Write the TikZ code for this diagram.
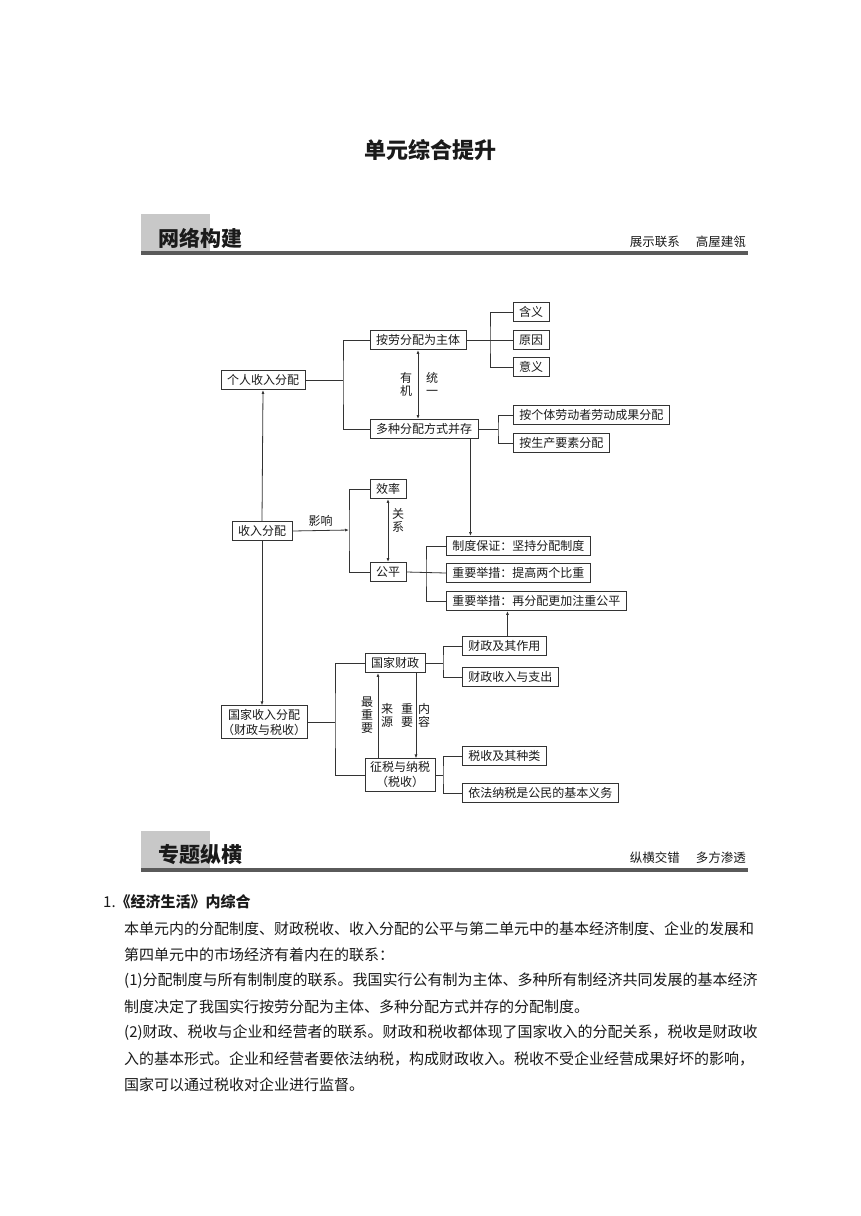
\documentclass[tikz,border=0pt]{standalone}
\usepackage{fontspec}
\setmainfont{Noto Sans CJK SC}
\usetikzlibrary{arrows.meta}
\definecolor{lineC}{HTML}{333333}
\definecolor{bandC}{HTML}{C8C8C8}
\definecolor{ruleC}{HTML}{5A5A5A}
\definecolor{textC}{HTML}{1A1A1A}
\def\lwBox{0.9pt}
\def\lwLink{0.8pt}
\def\pageW{860}
\def\pageH{1216}
\def\marginL{141}
\def\marginR{748}
\def\bandR{210}
\def\bodyL{124}

\tikzset{
  box/.style={draw=lineC, line width=\lwBox, fill=white, inner xsep=6pt, inner ysep=3pt,
    minimum height=19pt, font=\fontsize{12}{15}\selectfont, text=textC},
  link/.style={draw=lineC, line width=\lwLink},
  arr/.style={link, -{Latex[length=4pt, width=3pt]}},
  dblarr/.style={link, {Latex[length=4pt, width=3pt]}-{Latex[length=4pt, width=3pt]}},
  vlabel/.style={align=center, font=\fontsize{12}{13}\selectfont, text=textC, inner sep=0pt},
  bodyline/.style={anchor=west, inner sep=0pt, font=\fontsize{15}{15}\selectfont, text=textC},
  headtext/.style={anchor=west, inner sep=0pt, font=\bfseries\fontsize{21}{21}\selectfont, text=textC},
  tagtext/.style={anchor=east, inner sep=0pt, font=\fontsize{12.5}{12.5}\selectfont, text=textC},
}

\begin{document}
\begin{tikzpicture}[x=1pt, y=-1pt]
  \useasboundingbox (0,0) rectangle (\pageW,\pageH);
  \fill[white] (0,0) rectangle (\pageW,\pageH);

  % Title
  \node[font=\bfseries\fontsize{22}{22}\selectfont, text=textC] (title) at (430,150) {单元综合提升};

  % Section band: network
  \fill[bandC] (\marginL,214) rectangle (\bandR,251);
  \fill[ruleC] (\marginL,251) rectangle (\marginR,255);
  \node[headtext] (netHead) at (158,238) {网络构建};
  \node[tagtext] (netTag) at (746,242) {展示联系\hspace{16pt}高屋建瓴};

  % Personal income
  \node[box] (geren) at (263,380) {个人收入分配};
  \node[box] (anlao) at (418,340) {按劳分配为主体};
  \node[box] (duozhong) at (424,429) {多种分配方式并存};
  \node[box] (hanyi) at (531,312) {含义};
  \node[box] (yuanyin) at (531,340) {原因};
  \node[box] (yiyi) at (531,367) {意义};
  \node[box, anchor=west] (geti) at (513,415) {按个体劳动者劳动成果分配};
  \node[box, anchor=west] (yaosu) at (513,443) {按生产要素分配};

  \coordinate (brA) at (343,380);
  \coordinate (brB) at (490,340);
  \coordinate (brC) at (498,429);
  \draw[link] (geren.east) -- (brA);
  \draw[link] (anlao.west) -| (brA) |- (duozhong.west);
  \draw[link] (anlao.east) -- (yuanyin.west);
  \draw[link] (hanyi.west) -| (brB) |- (yiyi.west);
  \draw[link] (duozhong.east) -- (brC);
  \draw[link] (geti.west) -| (brC) |- (yaosu.west);
  \draw[dblarr] (anlao.south) -- (anlao.south |- duozhong.north);
  \node[vlabel] (youji) at (406,384) {有\\机};
  \node[vlabel] (tongyi) at (432,384) {统\\一};

  % Income distribution
  \node[box] (shouru) at (262,531) {收入分配};
  \node[box] (xiaolv) at (388,489) {效率};
  \node[box] (gongping) at (388,572) {公平};
  \node[box, anchor=west] (baozheng) at (446,546) {制度保证：坚持分配制度};
  \node[box, anchor=west] (bizhong) at (446,573) {重要举措：提高两个比重};
  \node[box, anchor=west] (zaifenpei) at (446,601) {重要举措：再分配更加注重公平};

  \coordinate (brD) at (349,530);
  \coordinate (brE) at (426,572);
  \draw[arr] (shouru.north) -- (geren.south);
  \draw[arr] (shouru.east) -- (brD) node[midway, above, font=\fontsize{12}{12}\selectfont, text=textC] {影响};
  \draw[link] (xiaolv.west) -| (brD) |- (gongping.west);
  \draw[dblarr] (xiaolv.south) -- (gongping.north);
  \node[vlabel] (guanxi) at (398,520) {关\\系};
  \draw[link] (gongping.east) -- (bizhong.west);
  \draw[link] (baozheng.west) -| (brE) |- (zaifenpei.west);
  \draw[arr] ([xshift=-8pt]duozhong.south east) -- ([xshift=-8pt]duozhong.south east |- baozheng.north);

  % National income
  \node[box, align=center, inner xsep=1pt] (guojia) at (264,722) {国家收入分配\\（财政与税收）};
  \node[box] (caizheng) at (395,663) {国家财政};
  \node[box, align=center, inner xsep=5pt] (zhengshui) at (400,775) {征税与纳税\\（税收）};
  \node[box, anchor=west] (zuoyong) at (462,646) {财政及其作用};
  \node[box, anchor=west] (zhichu) at (462,677) {财政收入与支出};
  \node[box, anchor=west] (zhonglei) at (462,756) {税收及其种类};
  \node[box, anchor=west] (yiwu) at (462,793) {依法纳税是公民的基本义务};

  \coordinate (brF) at (335,722);
  \coordinate (brG) at (443,663);
  \coordinate (brH) at (443,775);
  \draw[arr] (shouru.south) -- (shouru.south |- guojia.north);
  \draw[link] (guojia.east) -- (brF);
  \draw[link] (caizheng.west) -| (brF) |- (zhengshui.west);
  \draw[arr] ([xshift=-17pt]caizheng.south |- zhengshui.north) -- ([xshift=-17pt]caizheng.south);
  \draw[arr] ([xshift=21pt]caizheng.south) -- ([xshift=21pt]caizheng.south |- zhengshui.north);
  \node[vlabel] (zuizhongyao) at (367,715) {最\\重\\要};
  \node[vlabel] (laiyuan) at (387,715) {来\\源};
  \node[vlabel] (zhongyao) at (407,715) {重\\要};
  \node[vlabel] (neirong) at (424,715) {内\\容};
  \draw[link] (caizheng.east) -- (brG);
  \draw[link] (zuoyong.west) -| (brG) |- (zhichu.west);
  \draw[arr] ([xshift=3pt]zuoyong.north) -- ([xshift=3pt]zuoyong.north |- zaifenpei.south);
  \draw[link] (zhengshui.east) -- (brH);
  \draw[link] (zhonglei.west) -| (brH) |- (yiwu.west);

  % Section band: topics
  \fill[bandC] (\marginL,831) rectangle (\bandR,868);
  \fill[ruleC] (\marginL,868) rectangle (\marginR,872);
  \node[headtext] (topHead) at (158,855) {专题纵横};
  \node[tagtext] (topTag) at (746,858) {纵横交错\hspace{16pt}多方渗透};

  % Body text
  \node[bodyline] (secOne) at (103,902) {1.\textbf{《经济生活》内综合}};
  \node[bodyline] (lineA) at (\bodyL,929) {本单元内的分配制度、财政税收、收入分配的公平与第二单元中的基本经济制度、企业的发展和};
  \node[bodyline] (lineB) at (\bodyL,955) {第四单元中的市场经济有着内在的联系：};
  \node[bodyline] (lineC) at (\bodyL,981) {(1)分配制度与所有制制度的联系。我国实行公有制为主体、多种所有制经济共同发展的基本经济};
  \node[bodyline] (lineD) at (\bodyL,1007) {制度决定了我国实行按劳分配为主体、多种分配方式并存的分配制度。};
  \node[bodyline] (lineE) at (\bodyL,1033) {(2)财政、税收与企业和经营者的联系。财政和税收都体现了国家收入的分配关系，税收是财政收};
  \node[bodyline] (lineF) at (\bodyL,1059) {入的基本形式。企业和经营者要依法纳税，构成财政收入。税收不受企业经营成果好坏的影响，};
  \node[bodyline] (lineG) at (\bodyL,1085) {国家可以通过税收对企业进行监督。};
\end{tikzpicture}
\end{document}
